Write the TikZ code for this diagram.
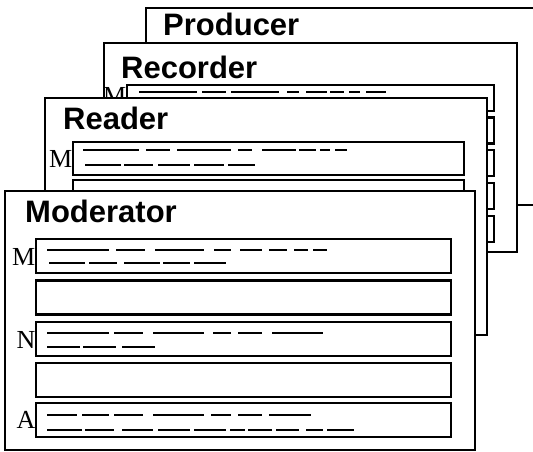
\documentclass[tikz,border=0pt]{standalone}
\usepackage{fontspec}
\setmainfont{Liberation Serif}
\newfontfamily\headfont{Liberation Sans}
\usetikzlibrary{calc}
\tikzset{
  panel/.style={draw,fill=white,line width=2pt},
  slot/.style={draw,fill=white,line width=2.6pt},
  scrawl/.style={line width=2pt},
  head/.style={anchor=base west,inner sep=0pt,
    font=\headfont\bfseries\fontsize{31}{31}\selectfont},
  tag/.style={anchor=east,inner sep=.5pt,
    font=\fontsize{26}{26}\selectfont}
}

\begin{document}
\begin{tikzpicture}[x=1pt,y=-1pt]
\path[use as bounding box,clip] (0,0) rectangle (533,451);

% back sheet
\draw[panel] (146,8) rectangle (545,205);
\node[head] (prod) at (163,35) {Producer};

% second sheet
\draw[panel] (104,43) rectangle (517,252);
\node[head] (rec) at (121,78) {Recorder};
\foreach \t in {85,117.5,150,183,216}
  \draw[slot] (127,\t) rectangle (494,\t+26);
\node[tag] (recM) at (127,96) {M};
\draw[scrawl,dash pattern=on 58pt off 5pt on 24pt off 5pt on 48pt off 8pt
  on 12pt off 7pt on 21pt off 3pt on 14pt off 5pt on 11pt off 6pt on 20pt]
  (139,92) -- (386,92);

% third sheet
\draw[panel] (45,98) rectangle (487,335);
\node[head] (read) at (63,129) {Reader};
\foreach \t in {142,180,218,256,294}
  \draw[slot] (73,\t) rectangle (464,\t+33);
\node[tag] (readM) at (73,158.5) {M};
\draw[scrawl,dash pattern=on 56pt off 7pt on 24pt off 7pt on 54pt off 7pt
  on 14pt off 10pt on 34pt off 3pt on 17pt off 4pt on 10pt off 5pt on 12pt]
  (83,150) -- (347,150);
\draw[scrawl,dash pattern=on 36pt off 3pt on 29pt off 5pt on 32pt off 4pt
  on 30pt off 4pt on 27pt]
  (85,165) -- (255,165);

% front sheet
\draw[panel] (5,191) rectangle (475,450);
\node[head] (mod) at (25,222) {Moderator};
\foreach \t in {239,280.5,322,363,403}
  \draw[slot] (36,\t) rectangle (451,\t+34);
\node[tag] (modM) at (36,257) {M};
\node[tag] (modN) at (36,340) {N};
\node[tag] (modA) at (36,420) {A};

\draw[scrawl,dash pattern=on 62pt off 7pt on 29pt off 10pt on 49pt off 10pt
  on 17pt off 9pt on 22pt off 7pt on 18pt off 7pt on 14pt off 5pt on 14pt]
  (47,250) -- (327,250);
\draw[scrawl,dash pattern=on 36pt off 4pt on 28pt off 7pt on 36pt off 3pt
  on 27pt off 4pt on 32pt]
  (49,263) -- (226,263);

\draw[scrawl,dash pattern=on 62pt off 5pt on 29pt off 10pt on 51pt off 9pt
  on 18pt off 7pt on 24pt off 10pt on 51pt]
  (47,333) -- (323,333);
\draw[scrawl,dash pattern=on 33pt off 3pt on 33pt off 6pt on 33pt]
  (47,347) -- (155,347);

\draw[scrawl,dash pattern=on 30pt off 5pt on 27pt off 5pt on 29pt off 10pt
  on 51pt off 7pt on 20pt off 7pt on 24pt off 7pt on 42pt]
  (47,415) -- (311,415);
\draw[scrawl,dash pattern=on 35pt off 3pt on 29pt off 8pt on 31pt off 5pt
  on 32pt off 4pt on 32pt off 4pt on 15pt off 3pt on 24pt off 4pt
  on 23pt off 7pt on 17pt off 4pt on 27pt]
  (47,430) -- (354,430);
\end{tikzpicture}
\end{document}
